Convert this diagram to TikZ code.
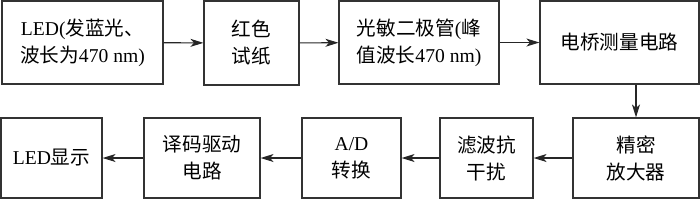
\documentclass[tikz,border=0pt]{standalone}
\usepackage{fontspec}
\setmainfont{Liberation Serif}
\newfontfamily\cjk{Noto Sans CJK SC}
\usetikzlibrary{arrows.meta}

\tikzset{
    blk/.style={draw=black!80, line width=0.6pt, align=center, inner sep=0pt,
        font=\fontsize{9.8}{13.5}\selectfont},
    arr/.style={-{Stealth[length=6.5pt,width=4pt,inset=1.8pt]}, line width=0.55pt, black!85},
}

\begin{document}
\begin{tikzpicture}[x=0.5pt,y=-0.5pt]
        \useasboundingbox (0,0) rectangle (700,200);
        % ── fila superior ────────────────────────────────────
        \node[blk, minimum width=80.5pt, minimum height=41.5pt] (led) at (82.5,42.5)
            {LED({\cjk 发蓝光、}\\{\cjk 波长为}470 nm)};
        \node[blk, minimum width=47.5pt, minimum height=42pt] (paper) at (251.5,43)
            {\cjk 红色\\\cjk 试纸};
        \node[blk, minimum width=80pt, minimum height=41.5pt] (diode) at (419,42.5)
            {{\cjk 光敏二极管}({\cjk 峰}\\{\cjk 值波长}470 nm)};
        \node[blk, minimum width=79.5pt, minimum height=41.5pt] (bridge) at (619.5,42.5)
            {\cjk 电桥测量电路};
        % ── fila inferior ────────────────────────────────────
        \node[blk, minimum width=63pt, minimum height=40pt] (amp) at (636,158)
            {\cjk 精密\\\cjk 放大器};
        \node[blk, minimum width=46.5pt, minimum height=40pt] (filter) at (486.5,158)
            {\cjk 滤波抗\\\cjk 干扰};
        \node[blk, minimum width=49.5pt, minimum height=40pt] (adc) at (351.5,158)
            {A/D\\\cjk 转换};
        \node[blk, minimum width=58pt, minimum height=40pt] (decoder) at (202,158)
            {\cjk 译码驱动\\\cjk 电路};
        \node[blk, minimum width=50.5pt, minimum height=40pt] (display) at (51.5,158)
            {LED{\cjk 显示}};
        % flechas
        \draw[arr] (led) -- (paper);
        \draw[arr] (paper) -- (diode);
        \draw[arr] (diode) -- (bridge.west |- diode);
        \draw[arr] (bridge.south -| amp.north) -- (amp.north);
        \draw[arr] (amp) -- (filter);
        \draw[arr] (filter) -- (adc);
        \draw[arr] (adc) -- (decoder);
        \draw[arr] (decoder) -- (display);
\end{tikzpicture}
\end{document}
